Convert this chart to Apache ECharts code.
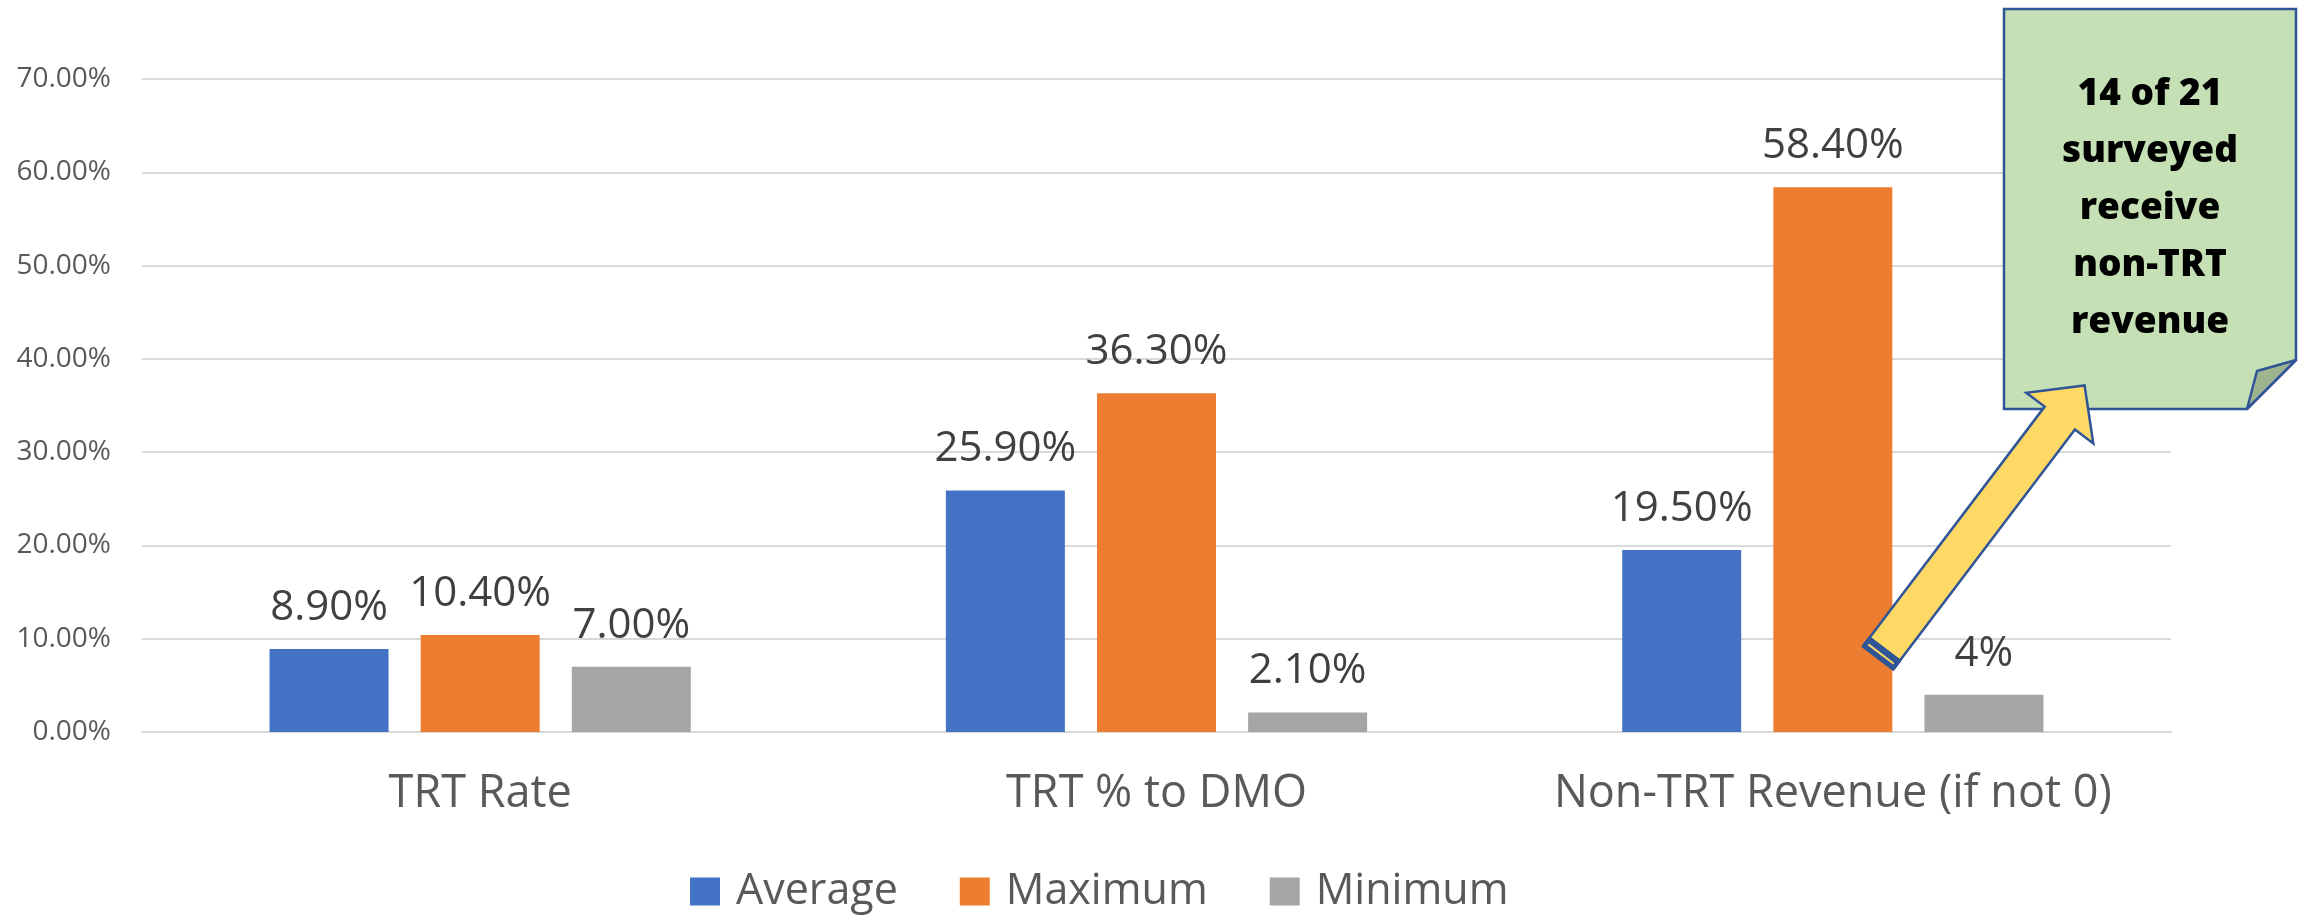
<!DOCTYPE html>
<html>
<head>
<meta charset="utf-8">
<script src="https://cdn.jsdelivr.net/npm/echarts@6/dist/echarts.min.js"></script>
<style>
  html, body { margin: 0; padding: 0; background: #ffffff; }
  #chart { width: 2305px; height: 920px; }
</style>
</head>
<body>
<div id="chart"></div>
<script>
// Survey results: TRT rate, share of TRT going to the DMO, and non-TRT revenue
const categories = ['TRT Rate', 'TRT % to DMO', 'Non-TRT Revenue (if not 0)'];
const seriesNames = ['Average', 'Maximum', 'Minimum'];
const averageValues = [8.9, 25.9, 19.5];
const maximumValues = [10.4, 36.3, 58.4];
const minimumValues = [7.0, 2.1, 4];
// Decimal places shown on each bar's label
const averageDecimals = [2, 2, 2];
const maximumDecimals = [2, 2, 2];
const minimumDecimals = [2, 2, 0];
const yTicks = [0, 10, 20, 30, 40, 50, 60, 70];
const calloutLines = ['14 of 21', 'surveyed', 'receive', 'non-TRT', 'revenue'];

const colors = ['#4472C4', '#ED7D31', '#A5A5A5'];
const FONT = '"Open Sans", "Noto Sans", sans-serif';

const chart = echarts.init(document.getElementById('chart'), null, { renderer: 'canvas' });

function makeSeries(name, values, decimals, color) {
  return {
    name: name,
    type: 'bar',
    barWidth: 119,
    barGap: '27%',
    itemStyle: { color: color },
    data: values,
    label: {
      show: true,
      position: 'top',
      distance: 20,
      fontFamily: FONT,
      fontSize: 42,
      color: '#404040',
      formatter: (p) => p.value.toFixed(decimals[p.dataIndex]) + '%'
    },
    z: 2
  };
}

// Block-arrow geometry (tail position, direction, lengths)
const tail = [1878, 658];
const dir = [0.604, -0.797];
const perp = [0.797, 0.604];
const shaftLen = 301, headLen = 41, halfShaft = 19, halfHead = 42, bandLen = 12;
const pt = (base, a, b) => [base[0] + a * dir[0] + b * perp[0], base[1] + a * dir[1] + b * perp[1]];
const arrowPoints = [
  pt(tail, 0, -halfShaft), pt(tail, shaftLen, -halfShaft), pt(tail, shaftLen, -halfHead),
  pt(tail, shaftLen + headLen, 0),
  pt(tail, shaftLen, halfHead), pt(tail, shaftLen, halfShaft), pt(tail, 0, halfShaft)
];
const bandPoints = [
  pt(tail, 0, -halfShaft - 1), pt(tail, bandLen, -halfShaft - 1),
  pt(tail, bandLen, halfShaft + 1), pt(tail, 0, halfShaft + 1)
];
const bandLine = [pt(tail, 5, -halfShaft + 3), pt(tail, 5, halfShaft - 3)];

const option = {
  backgroundColor: '#ffffff',
  animation: false,
  textStyle: { fontFamily: FONT },
  grid: { left: 142, right: 134, top: 79, bottom: 188, containLabel: false },
  legend: {
    data: seriesNames,
    left: 690,
    top: 870,
    padding: 0,
    icon: 'rect',
    itemWidth: 30,
    itemHeight: 28,
    itemGap: 62,
    textStyle: { fontFamily: FONT, fontSize: 43, color: '#595959', padding: [0, 0, 0, 11] }
  },
  xAxis: {
    type: 'category',
    data: categories,
    axisLine: { show: true, lineStyle: { color: '#D9D9D9', width: 2 } },
    axisTick: { show: false },
    axisLabel: { interval: 0, fontFamily: FONT, fontSize: 45, color: '#595959', margin: 40 }
  },
  yAxis: {
    type: 'value',
    min: yTicks[0],
    max: yTicks[yTicks.length - 1],
    interval: yTicks[1] - yTicks[0],
    axisLine: { show: false },
    axisTick: { show: false },
    splitLine: { lineStyle: { color: '#D9D9D9', width: 2 } },
    axisLabel: {
      fontFamily: FONT, fontSize: 28, color: '#595959', margin: 31,
      formatter: (v) => v.toFixed(2) + '%'
    }
  },
  series: [
    makeSeries(seriesNames[0], averageValues, averageDecimals, colors[0]),
    makeSeries(seriesNames[1], maximumValues, maximumDecimals, colors[1]),
    makeSeries(seriesNames[2], minimumValues, minimumDecimals, colors[2])
  ],
  graphic: [
    // Folded-corner note
    {
      type: 'polygon', z: 10,
      shape: { points: [[2004, 9], [2296, 9], [2296, 360], [2247, 409], [2004, 409]] },
      style: { fill: '#C5E0B4', stroke: '#2F5597', lineWidth: 2.5 }
    },
    {
      type: 'polygon', z: 11,
      shape: { points: [[2296, 360], [2257, 371], [2247, 409]] },
      style: { fill: '#9EB48F', stroke: '#2F5597', lineWidth: 2.5, lineJoin: 'round' }
    },
    {
      type: 'text', z: 12,
      style: {
        x: 2150, y: 208,
        text: calloutLines.join('\n'),
        align: 'center', verticalAlign: 'middle',
        fontFamily: FONT, fontWeight: 800, fontSize: 37, lineHeight: 57,
        fill: '#000000'
      }
    },
    // Block arrow pointing at the note
    {
      type: 'polygon', z: 20,
      shape: { points: arrowPoints },
      style: { fill: '#FFD966', stroke: '#2F5597', lineWidth: 2.5 }
    },
    {
      type: 'polygon', z: 21,
      shape: { points: bandPoints },
      style: { fill: '#2F5597', stroke: '#2F5597', lineWidth: 1 }
    },
    {
      type: 'line', z: 22,
      shape: { x1: bandLine[0][0], y1: bandLine[0][1], x2: bandLine[1][0], y2: bandLine[1][1] },
      style: { stroke: '#FFD966', lineWidth: 2 }
    }
  ]
};

chart.setOption(option);
</script>
</body>
</html>
